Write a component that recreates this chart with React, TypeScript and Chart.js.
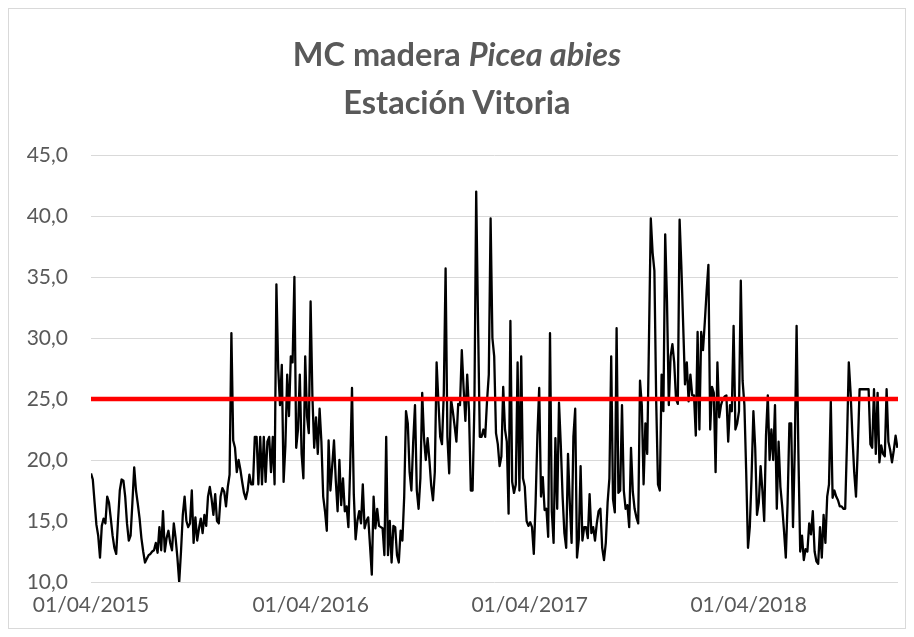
import { useEffect, useRef } from "react";
import { Chart, registerables } from "chart.js";

Chart.register(...registerables);

// Wood moisture content (MC, %), one value every 3 days from 01/04/2015
const STEP_DAYS = 3;

// 01/04/2015 – 12/09/2015
const mcSeg1 = [
  18.9, 18.4, 16.5, 14.7, 13.8, 12.0, 14.6, 15.2, 14.8, 17.0,
  16.5, 15.2, 13.8, 12.8, 12.3, 15.0, 17.5, 18.4, 18.3, 17.0,
  14.8, 13.4, 13.8, 16.5, 19.4, 17.5, 16.4, 15.2, 13.6, 12.5,
  11.6, 11.9, 12.2, 12.3, 12.5, 12.6, 13.2, 12.4, 14.5, 12.6,
  15.8, 12.5, 13.6, 14.2, 13.2, 12.6, 14.8, 13.6, 12.0, 10.0,
  12.5, 15.5, 17.0, 15.0, 14.5,
];
// 13/09/2015 – 01/03/2016
const mcSeg2 = [
  14.8, 17.5, 13.2, 15.3, 13.4, 14.4, 15.2, 14.0, 15.5, 14.6,
  17.0, 17.8, 16.8, 15.5, 17.2, 15.0, 14.8, 17.0, 17.7, 17.4,
  16.2, 17.8, 18.8, 30.4, 21.6, 21.0, 19.0, 20.0, 19.2, 18.2,
  17.3, 16.8, 17.5, 18.8, 18.0, 18.0, 21.9, 21.9, 18.0, 21.9,
  18.0, 21.9, 18.2, 21.5, 21.9, 19.0, 21.9, 18.0, 34.4, 27.5,
  24.5, 27.8, 18.2, 21.2, 27.0, 23.6, 28.5,
];
// 02/03/2016 – 19/08/2016
const mcSeg3 = [
  28.0, 35.0, 21.0, 22.5, 27.0, 20.5, 18.5, 28.5, 23.6, 22.2,
  33.0, 25.2, 21.0, 23.5, 20.5, 24.2, 21.5, 17.0, 15.8, 14.2,
  21.6, 17.5, 19.5, 21.6, 18.3, 15.8, 20.0, 16.3, 18.5, 15.8,
  16.2, 14.5, 19.5, 25.9, 17.2, 13.5, 15.0, 15.8, 14.8, 18.0,
  14.4, 15.0, 15.3, 13.0, 10.6, 17.0, 14.4, 16.0, 14.6, 14.5,
  14.4, 12.2, 21.9, 12.2, 15.0, 11.6, 14.6,
];
// 20/08/2016 – 09/02/2017
const mcSeg4 = [
  14.5, 12.2, 11.6, 14.2, 13.4, 17.0, 24.0, 23.0, 19.0, 17.5,
  21.5, 24.5, 17.5, 16.0, 18.5, 25.5, 21.8, 20.0, 21.8, 20.0,
  17.9, 16.7, 19.0, 28.0, 24.8, 21.9, 21.3, 25.5, 35.7, 21.9,
  18.9, 25.0, 24.0, 22.8, 21.5, 24.6, 24.5, 29.0, 25.9, 23.2,
  27.0, 24.0, 17.5, 17.5, 24.5, 42.0, 31.5, 21.9, 21.9, 22.5,
  21.9, 24.8, 27.0, 39.8, 30.0, 28.5, 22.2, 21.3,
];
// 10/02/2017 – 27/07/2017
const mcSeg5 = [
  19.5, 20.3, 26.0, 22.5, 21.5, 15.6, 31.4, 18.2, 17.3, 18.0,
  28.0, 17.5, 28.5, 18.5, 17.8, 15.0, 14.6, 14.9, 14.5, 12.3,
  16.5, 22.0, 25.9, 17.0, 18.6, 15.9, 16.0, 13.7, 30.4, 15.8,
  13.2, 21.8, 16.0, 24.7, 21.2, 17.0, 14.0, 12.8, 20.5, 16.5,
  13.2, 21.9, 24.2, 12.0, 13.5, 19.5, 13.4, 14.5, 14.5, 13.6,
  17.2, 14.0, 14.5, 13.4, 14.8, 15.8,
];
// 28/07/2017 – 14/01/2018
const mcSeg6 = [
  16.0, 12.8, 11.8, 13.2, 16.5, 18.5, 28.5, 16.8, 15.7, 30.8,
  17.3, 17.5, 24.5, 17.5, 16.0, 16.3, 14.5, 21.0, 17.4, 16.0,
  15.3, 14.8, 26.5, 24.5, 18.0, 23.0, 20.5, 30.0, 39.8, 37.0,
  35.5, 24.8, 18.0, 17.5, 27.0, 24.0, 38.5, 33.0, 24.5, 28.5,
  29.5, 28.0, 25.0, 24.6, 39.7, 35.8, 31.0, 26.2, 28.0, 24.8,
  27.0, 25.3, 25.3, 22.0, 30.5, 22.5, 30.5,
];
// 15/01/2018 – 07/07/2018
const mcSeg7 = [
  29.0, 31.3, 33.8, 36.0, 22.5, 26.0, 25.5, 19.0, 28.0, 23.5,
  24.5, 25.0, 25.2, 25.3, 21.5, 24.5, 24.0, 31.0, 22.5, 23.0,
  24.0, 34.7, 26.5, 24.5, 19.0, 12.8, 14.5, 18.7, 24.0, 21.0,
  15.5, 16.5, 19.5, 17.5, 15.0, 22.0, 25.3, 20.0, 22.5, 20.0,
  24.5, 16.0, 21.5, 17.8, 16.2, 14.2, 12.0, 16.5, 23.0, 23.0,
  14.5, 21.0, 31.0, 20.5, 12.5, 13.8, 11.8, 12.7,
];
// 08/07/2018 – 04/12/2018
const mcSeg8 = [
  12.5, 14.8, 13.9, 15.8, 12.5, 11.7, 11.5, 14.5, 12.0, 15.5,
  13.2, 17.0, 18.0, 24.8, 16.9, 17.5, 17.0, 16.7, 16.2, 16.2,
  16.0, 16.0, 21.5, 28.0, 25.5, 22.0, 19.0, 17.0, 21.0, 25.8,
  25.8, 25.8, 25.8, 25.8, 25.8, 21.3, 21.0, 25.8, 20.5, 25.5,
  19.8, 21.2, 20.5, 20.3, 25.8, 21.5, 20.8, 19.8, 20.8, 22.0,
  21.0,
];

const mcValues = [
  ...mcSeg1, ...mcSeg2, ...mcSeg3, ...mcSeg4,
  ...mcSeg5, ...mcSeg6, ...mcSeg7, ...mcSeg8,
];

const threshold = 25;
const xMaxDay = 1345;
const xTickDays = [0, 366, 731, 1096];
const xTickLabels = ["01/04/2015", "01/04/2016", "01/04/2017", "01/04/2018"];
const yMin = 10;
const yMax = 45;
const yStep = 5;

const FONT = "Lato, Carlito, Calibri, 'Noto Sans', sans-serif";
const TEXT = "#595959";

export default function App() {
  const canvasRef = useRef<HTMLCanvasElement | null>(null);

  useEffect(() => {
    const canvas = canvasRef.current;
    if (!canvas) return;
    const chart = new Chart(canvas, {
      type: "line",
      data: {
        datasets: [
          {
            label: "Umbral 25 %",
            data: [
              { x: 0, y: threshold },
              { x: xMaxDay, y: threshold },
            ],
            borderColor: "#ff0000",
            backgroundColor: "#ff0000",
            borderWidth: 4.5,
            pointRadius: 0,
          },
          {
            label: "MC",
            data: mcValues.map((v, i) => ({ x: i * STEP_DAYS, y: v })),
            borderColor: "#000000",
            backgroundColor: "#000000",
            borderWidth: 2.3,
            pointRadius: 0,
            tension: 0,
            borderJoinStyle: "round",
          },
        ],
      },
      options: {
        animation: false,
        responsive: false,
        maintainAspectRatio: false,
        layout: { padding: { left: 0, right: 7, top: 146, bottom: 0 } },
        plugins: {
          legend: { display: false },
          tooltip: { enabled: false },
          title: { display: false },
        },
        scales: {
          x: {
            type: "linear",
            min: 0,
            max: xMaxDay,
            grid: { display: false, drawTicks: false },
            border: { display: false },
            afterBuildTicks: (scale: any) => {
              scale.ticks = xTickDays.map((v) => ({ value: v }));
            },
            afterFit: (scale: any) => {
              scale.height = 46;
            },
            ticks: {
              autoSkip: false,
              maxRotation: 0,
              minRotation: 0,
              padding: 11,
              color: TEXT,
              font: { family: FONT, size: 21 },
              callback: (value: any) => {
                const k = xTickDays.indexOf(Number(value));
                return k >= 0 ? xTickLabels[k] : "";
              },
            },
          },
          y: {
            min: yMin,
            max: yMax,
            grid: { color: "#d9d9d9", lineWidth: 1, drawTicks: false },
            border: { display: false },
            afterFit: (scale: any) => {
              scale.width = 82;
            },
            ticks: {
              stepSize: yStep,
              padding: 23,
              color: TEXT,
              font: { family: FONT, size: 21 },
              callback: (value: any) => Number(value).toFixed(1).replace(".", ","),
            },
          },
        },
      },
    });
    return () => chart.destroy();
  }, []);

  return (
    <div
      style={{
        position: "relative",
        width: 898,
        height: 621,
        boxSizing: "border-box",
        border: "1px solid #d9d9d9",
        background: "#ffffff",
      }}
    >
      <div
        style={{
          position: "absolute",
          top: 21,
          left: 0,
          width: "100%",
          textAlign: "center",
          fontFamily: FONT,
          fontWeight: 700,
          fontSize: 32.5,
          lineHeight: "48px",
          color: TEXT,
          pointerEvents: "none",
        }}
      >
        <div>
          MC madera <i>Picea abies</i>
        </div>
        <div>Estación Vitoria</div>
      </div>
      <canvas
        ref={canvasRef}
        width={896}
        height={619}
        style={{ display: "block", width: 896, height: 619 }}
      />
    </div>
  );
}
